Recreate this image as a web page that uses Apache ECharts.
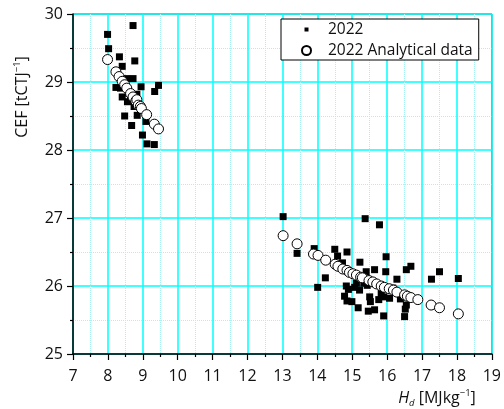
<!DOCTYPE html>
<html>
<head>
<meta charset="utf-8">
<script src="https://cdn.jsdelivr.net/npm/echarts@6/dist/echarts.min.js"></script>
<style>
  html, body { margin: 0; padding: 0; background: #fff; }
  #main { width: 504px; height: 409px; }
</style>
</head>
<body>
<div id="main"></div>
<script>
// measured points, [Hd, CEF]
var measured2022 = [
  [7.99, 29.70], [8.02, 29.49], [8.72, 29.83], [8.33, 29.37], [8.41, 29.23],
  [8.77, 29.31], [8.72, 29.05], [8.54, 29.05], [8.23, 28.92], [8.36, 28.91],
  [8.95, 28.93], [9.45, 28.95], [9.34, 28.86], [8.41, 28.78], [8.56, 28.71],
  [8.83, 28.82], [8.75, 28.64], [8.84, 28.51], [8.48, 28.50], [8.68, 28.36],
  [9.09, 28.42], [8.99, 28.22], [9.12, 28.09], [9.33, 28.08], [8.58, 28.84],
  [8.90, 28.64], [8.65, 28.75],
  [13.02, 27.02], [15.37, 26.99], [15.78, 26.90], [13.42, 26.48], [13.91, 26.55],
  [14.01, 25.98], [14.23, 26.12], [14.50, 26.54], [14.58, 26.44], [14.85, 26.50],
  [14.72, 26.34], [15.97, 26.43], [15.22, 26.35], [15.64, 26.24], [15.96, 26.21],
  [16.55, 26.24], [16.68, 26.29], [17.27, 26.10], [17.50, 26.21], [18.04, 26.11],
  [16.28, 26.10], [14.83, 26.00], [14.89, 25.95], [15.07, 25.98], [15.12, 26.04],
  [14.78, 25.85], [14.85, 25.78], [14.99, 25.77], [15.17, 25.68], [15.46, 25.63],
  [15.64, 25.65], [15.50, 25.84], [15.52, 25.77], [15.76, 25.80], [15.90, 25.84],
  [16.07, 25.82], [15.90, 25.56], [16.38, 25.81], [16.55, 25.72], [16.52, 25.66],
  [16.50, 25.55], [15.33, 26.04], [15.21, 25.94], [15.43, 26.01], [15.83, 25.89],
  [15.40, 26.21], [16.16, 25.97]
];

var analytical2022 = [
  [7.99, 29.33], [8.23, 29.15], [8.32, 29.08], [8.41, 29.01], [8.48, 28.96],
  [8.54, 28.91], [8.65, 28.83], [8.72, 28.78], [8.80, 28.72], [8.83, 28.74],
  [8.87, 28.66], [8.93, 28.64], [8.96, 28.61], [9.11, 28.52], [9.33, 28.38],
  [9.45, 28.31],
  [13.02, 26.74], [13.42, 26.62], [13.89, 26.47], [14.02, 26.45], [14.24, 26.38],
  [14.51, 26.32], [14.59, 26.29], [14.73, 26.25], [14.85, 26.23], [14.92, 26.20],
  [15.02, 26.18], [15.12, 26.16], [15.24, 26.13], [15.29, 26.12], [15.48, 26.08],
  [15.59, 26.06], [15.70, 26.03], [15.83, 26.00], [15.92, 25.98], [16.06, 25.96],
  [16.18, 25.94], [16.28, 25.91], [16.50, 25.87], [16.58, 25.85], [16.68, 25.83],
  [16.88, 25.80], [17.26, 25.72], [17.50, 25.68], [18.04, 25.59]
];

var seriesNames = ['2022', '2022 Analytical data'];

var FONT = 'Open Sans';
var chart = echarts.init(document.getElementById('main'));

var option = {
  animation: false,
  textStyle: { fontFamily: FONT },
  grid: {
    left: 73, right: 11, top: 14, bottom: 55,
    show: true, borderColor: '#333', borderWidth: 1
  },
  legend: {
    orient: 'vertical',
    left: 281, top: 19,
    padding: [2, 6, 1, 20],
    itemGap: 4,
    itemWidth: 9, itemHeight: 9,
    borderColor: '#000', borderWidth: 1, borderRadius: 0,
    backgroundColor: '#fff',
    textStyle: { fontSize: 15.5, lineHeight: 17, color: '#111', padding: [0, 0, 0, 12] },
    data: [
      { name: seriesNames[0], icon: 'path://M0,0M2.5,2.5h4v4h-4zM9,9' },
      { name: seriesNames[1], icon: 'circle' }
    ]
  },
  xAxis: {
    type: 'value', min: 7, max: 19, interval: 1,
    axisLine: { onZero: false, lineStyle: { color: '#000', width: 1.5 } },
    axisTick: { length: 6, lineStyle: { color: '#000', width: 1.2 } },
    minorTick: { show: true, splitNumber: 2, length: 3, lineStyle: { color: '#000', width: 1.2 } },
    axisLabel: { fontSize: 16, color: '#111', margin: 14 },
    splitLine: { show: true, lineStyle: { color: '#00ffff', width: 1.5 } },
    minorSplitLine: { show: true, lineStyle: { color: '#a8f4f4', width: 1, type: [1, 1] } }
  },
  yAxis: {
    type: 'value', min: 25, max: 30, interval: 1,
    axisLine: { onZero: false, lineStyle: { color: '#000', width: 1.5 } },
    axisTick: { length: 6, lineStyle: { color: '#000', width: 1.2 } },
    minorTick: { show: true, splitNumber: 2, length: 3, lineStyle: { color: '#000', width: 1.2 } },
    axisLabel: { fontSize: 16, color: '#111', margin: 10 },
    splitLine: { show: true, lineStyle: { color: '#00ffff', width: 1.5 } },
    minorSplitLine: { show: true, lineStyle: { color: '#a8f4f4', width: 1, type: [1, 1] } }
  },
  graphic: [
    {
      type: 'text', x: 22, y: 97, rotation: Math.PI / 2,
      style: {
        text: '{m|CEF [tCTJ}{s|−1}{m|]}',
        align: 'center', verticalAlign: 'middle',
        rich: {
          m: { fontFamily: FONT, fontSize: 16, lineHeight: 20, fill: '#111' },
          s: { fontFamily: FONT, fontSize: 9.5, lineHeight: 9, verticalAlign: 'top', fill: '#111' }
        }
      }
    },
    {
      type: 'text', x: 437, y: 398,
      style: {
        text: '{i|H}{d|d}{m| [MJkg}{s|−1}{m|]}',
        align: 'center', verticalAlign: 'middle',
        rich: {
          i: { fontFamily: FONT, fontStyle: 'italic', fontSize: 16, lineHeight: 20, fill: '#111' },
          d: { fontFamily: FONT, fontStyle: 'italic', fontSize: 9.5, lineHeight: 9, verticalAlign: 'bottom', fill: '#111' },
          m: { fontFamily: FONT, fontSize: 16, lineHeight: 20, fill: '#111' },
          s: { fontFamily: FONT, fontSize: 9.5, lineHeight: 9, verticalAlign: 'top', fill: '#111' }
        }
      }
    }
  ],
  series: [
    {
      name: seriesNames[0],
      type: 'scatter',
      symbol: 'rect',
      symbolSize: 7,
      itemStyle: { color: '#000', opacity: 1 },
      data: measured2022
    },
    {
      name: seriesNames[1],
      type: 'scatter',
      symbol: 'circle',
      symbolSize: 10,
      itemStyle: { color: '#fff', borderColor: '#000', borderWidth: 1, opacity: 1 },
      data: analytical2022
    }
  ]
};
chart.setOption(option);
</script>
</body>
</html>
